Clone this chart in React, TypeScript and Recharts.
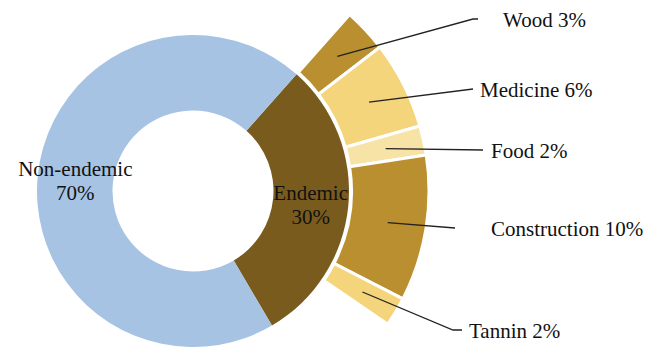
import React from "react";
import { PieChart, Pie, Cell } from "recharts";

// Inner ring: endemism split (percent of species)
const groupNames = ["Endemic", "Non-endemic"];
const groupValues = [30, 70];
const groupColors = ["#7a5b1e", "#a6c3e3"];

// Outer ring: uses of endemic species (percent of all species)
const useNames = ["Wood", "Medicine", "Food", "Construction", "Tannin"];
const useValues = [3, 6, 2, 10, 2];
const useColors = ["#b98f2f", "#f5d57b", "#f8e3a7", "#b98f2f", "#f5d57b"];

// Callout placement for the outer ring labels
const calloutLayout = [
  { textX: 503, baseY: 27, elbowX: 473, endX: 478 },
  { textX: 480, baseY: 97, elbowX: 473, endX: 473 },
  { textX: 491, baseY: 158, elbowX: 483, endX: 483 },
  { textX: 491, baseY: 236, elbowX: 455, endX: 455 },
  { textX: 469, baseY: 338, elbowX: 453, endX: 462 },
];

const groupData = groupNames.map((name, i) => ({ name, value: groupValues[i] }));
const useData = useNames.map((name, i) => ({ name, value: useValues[i] }));

const TOTAL = groupValues.reduce((a, b) => a + b, 0);
const USE_TOTAL = useValues.reduce((a, b) => a + b, 0);

const W = 659;
const H = 347;
const CX = 193;
const CY = 191;
const START = 48.4;
const USE_END = START - (USE_TOTAL / TOTAL) * 360;

const FONT = "'Liberation Serif', 'Times New Roman', serif";
const RAD = Math.PI / 180;

const groupLabel = (p: any) => {
  const r = (p.innerRadius + p.outerRadius) / 2;
  const x = p.cx + r * Math.cos(-p.midAngle * RAD);
  const y = p.cy + r * Math.sin(-p.midAngle * RAD);
  return (
    <text
      x={x}
      y={y}
      textAnchor="middle"
      fontFamily={FONT}
      fontSize={21}
      fill="#111"
    >
      <tspan x={x} dy={-3}>
        {p.name}
      </tspan>
      <tspan x={x} dy={24}>
        {`${p.value}%`}
      </tspan>
    </text>
  );
};

const useLabel = (p: any) => {
  const L = calloutLayout[p.index];
  const r = (p.innerRadius + p.outerRadius) / 2;
  const sx = p.cx + r * Math.cos(-p.midAngle * RAD);
  const sy = p.cy + r * Math.sin(-p.midAngle * RAD);
  const ly = L.baseY - 8;
  return (
    <g>
      <polyline
        points={`${sx},${sy} ${L.elbowX},${ly} ${L.endX},${ly}`}
        fill="none"
        stroke="#222"
        strokeWidth={1.3}
      />
      <text x={L.textX} y={L.baseY} fontFamily={FONT} fontSize={21} fill="#111">
        {`${p.name} ${p.value}%`}
      </text>
    </g>
  );
};

export default function App() {
  return (
    <div style={{ position: "absolute", left: 0, top: 0, background: "#fff" }}>
      <PieChart width={W} height={H} margin={{ top: 0, right: 0, bottom: 0, left: 0 }}>
        <Pie
          data={groupData}
          dataKey="value"
          nameKey="name"
          cx={CX}
          cy={CY}
          innerRadius={80.5}
          outerRadius={156}
          startAngle={START}
          endAngle={START - 360}
          stroke="none"
          label={groupLabel}
          labelLine={false}
          isAnimationActive={false}
        >
          {groupData.map((d, i) => (
            <Cell key={d.name} fill={groupColors[i]} />
          ))}
        </Pie>
        <Pie
          data={useData}
          dataKey="value"
          nameKey="name"
          cx={CX}
          cy={CY}
          innerRadius={158.5}
          outerRadius={236}
          startAngle={START}
          endAngle={USE_END}
          stroke="#fff"
          strokeWidth={3}
          label={useLabel}
          labelLine={false}
          isAnimationActive={false}
        >
          {useData.map((d, i) => (
            <Cell key={d.name} fill={useColors[i]} />
          ))}
        </Pie>
      </PieChart>
    </div>
  );
}
